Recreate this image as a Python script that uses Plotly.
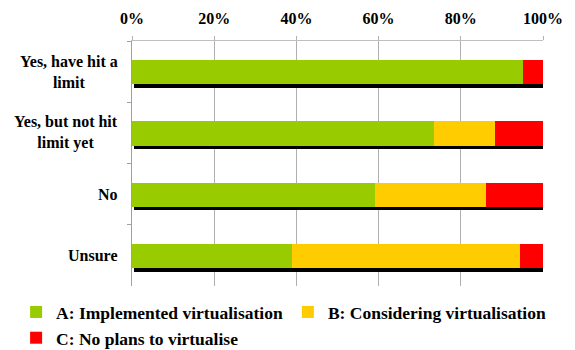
import plotly.graph_objects as go

# Survey rows (top to bottom) and the share of each answer, in percent
categories = [
    "Yes, have hit a<br>limit",
    "Yes, but not hit<br>limit yet",
    "No",
    "Unsure",
]
implemented = [95.2, 73.5, 59.1, 38.9]
considering = [0.0, 14.8, 27.0, 55.5]
no_plans = [4.8, 11.7, 13.9, 5.6]

series_names = [
    "A: Implemented virtualisation",
    "B: Considering virtualisation",
    "C: No plans to virtualise",
]
series_values = [implemented, considering, no_plans]
series_colors = ["#99CC00", "#FFCC00", "#FF0000"]

tick_values = [0, 20, 40, 60, 80, 100]
tick_labels = ["0%", "20%", "40%", "60%", "80%", "100%"]

FONT = "Liberation Serif"
BAR_W = 0.397
BAR_OFF = -0.188


def bold_lines(label):
    # bold every line on its own so each line is laid out independently
    return "<br>".join("<b>" + part + "</b>" for part in label.split("<br>"))


fig = go.Figure()

# drop shadow under each stacked bar
totals = [sum(v) for v in zip(*series_values)]
fig.add_trace(go.Bar(
    y=categories, x=totals, base=[0.4] * len(totals), orientation="h",
    width=BAR_W, offset=BAR_OFF + 0.056,
    marker=dict(color="#000000", line=dict(width=0)),
    showlegend=False, hoverinfo="skip",
))

# stacked segments, each starting where the previous ends
running = [0.0] * len(categories)
for name, vals, col in zip(series_names, series_values, series_colors):
    fig.add_trace(go.Bar(
        y=categories, x=vals, base=list(running), orientation="h",
        name=name, width=BAR_W, offset=BAR_OFF,
        marker=dict(color=col, line=dict(width=0)),
    ))
    running = [r + v for r, v in zip(running, vals)]

# row labels, centred line by line
for cat in categories:
    fig.add_annotation(
        x=-0.03, xref="paper", y=cat, yref="y",
        text=bold_lines(cat), showarrow=False, xanchor="right", align="center",
        font=dict(family=FONT, size=16, color="#000000"),
    )

fig.update_layout(
    width=575, height=350,
    margin=dict(l=132, r=32, t=41, b=64, autoexpand=False),
    paper_bgcolor="#ffffff", plot_bgcolor="#ffffff",
    barmode="overlay", bargap=0,
    font=dict(family=FONT, size=16, color="#000000"),
    showlegend=True,
    legend=dict(
        orientation="h", x=-0.282, xanchor="left", y=-0.033, yanchor="top",
        font=dict(family=FONT, size=17.5, color="#000000", weight="bold"),
        traceorder="normal", itemwidth=30, tracegroupgap=0,
        bgcolor="rgba(0,0,0,0)",
    ),
    xaxis=dict(
        side="top", range=[0, 100], tickmode="array",
        tickvals=tick_values, ticktext=["<b>" + t + "</b>" for t in tick_labels],
        showgrid=True, gridcolor="#b0b0b0", gridwidth=1,
        zeroline=False, showline=True, linecolor="#c0c0c0", linewidth=1,
        ticks="outside", ticklen=4, tickcolor="#b0b0b0", ticklabelstandoff=6,
        tickfont=dict(family=FONT, size=16, color="#000000"),
        fixedrange=True,
    ),
    yaxis=dict(
        range=[3.5, -0.5], type="category", showticklabels=False,
        showline=True, linecolor="#a0a0a0", linewidth=1,
        ticks="outside", ticklen=4, tickcolor="#a0a0a0", tickson="boundaries",
        showgrid=False, zeroline=False, fixedrange=True,
    ),
)

fig.write_html("out.html")
